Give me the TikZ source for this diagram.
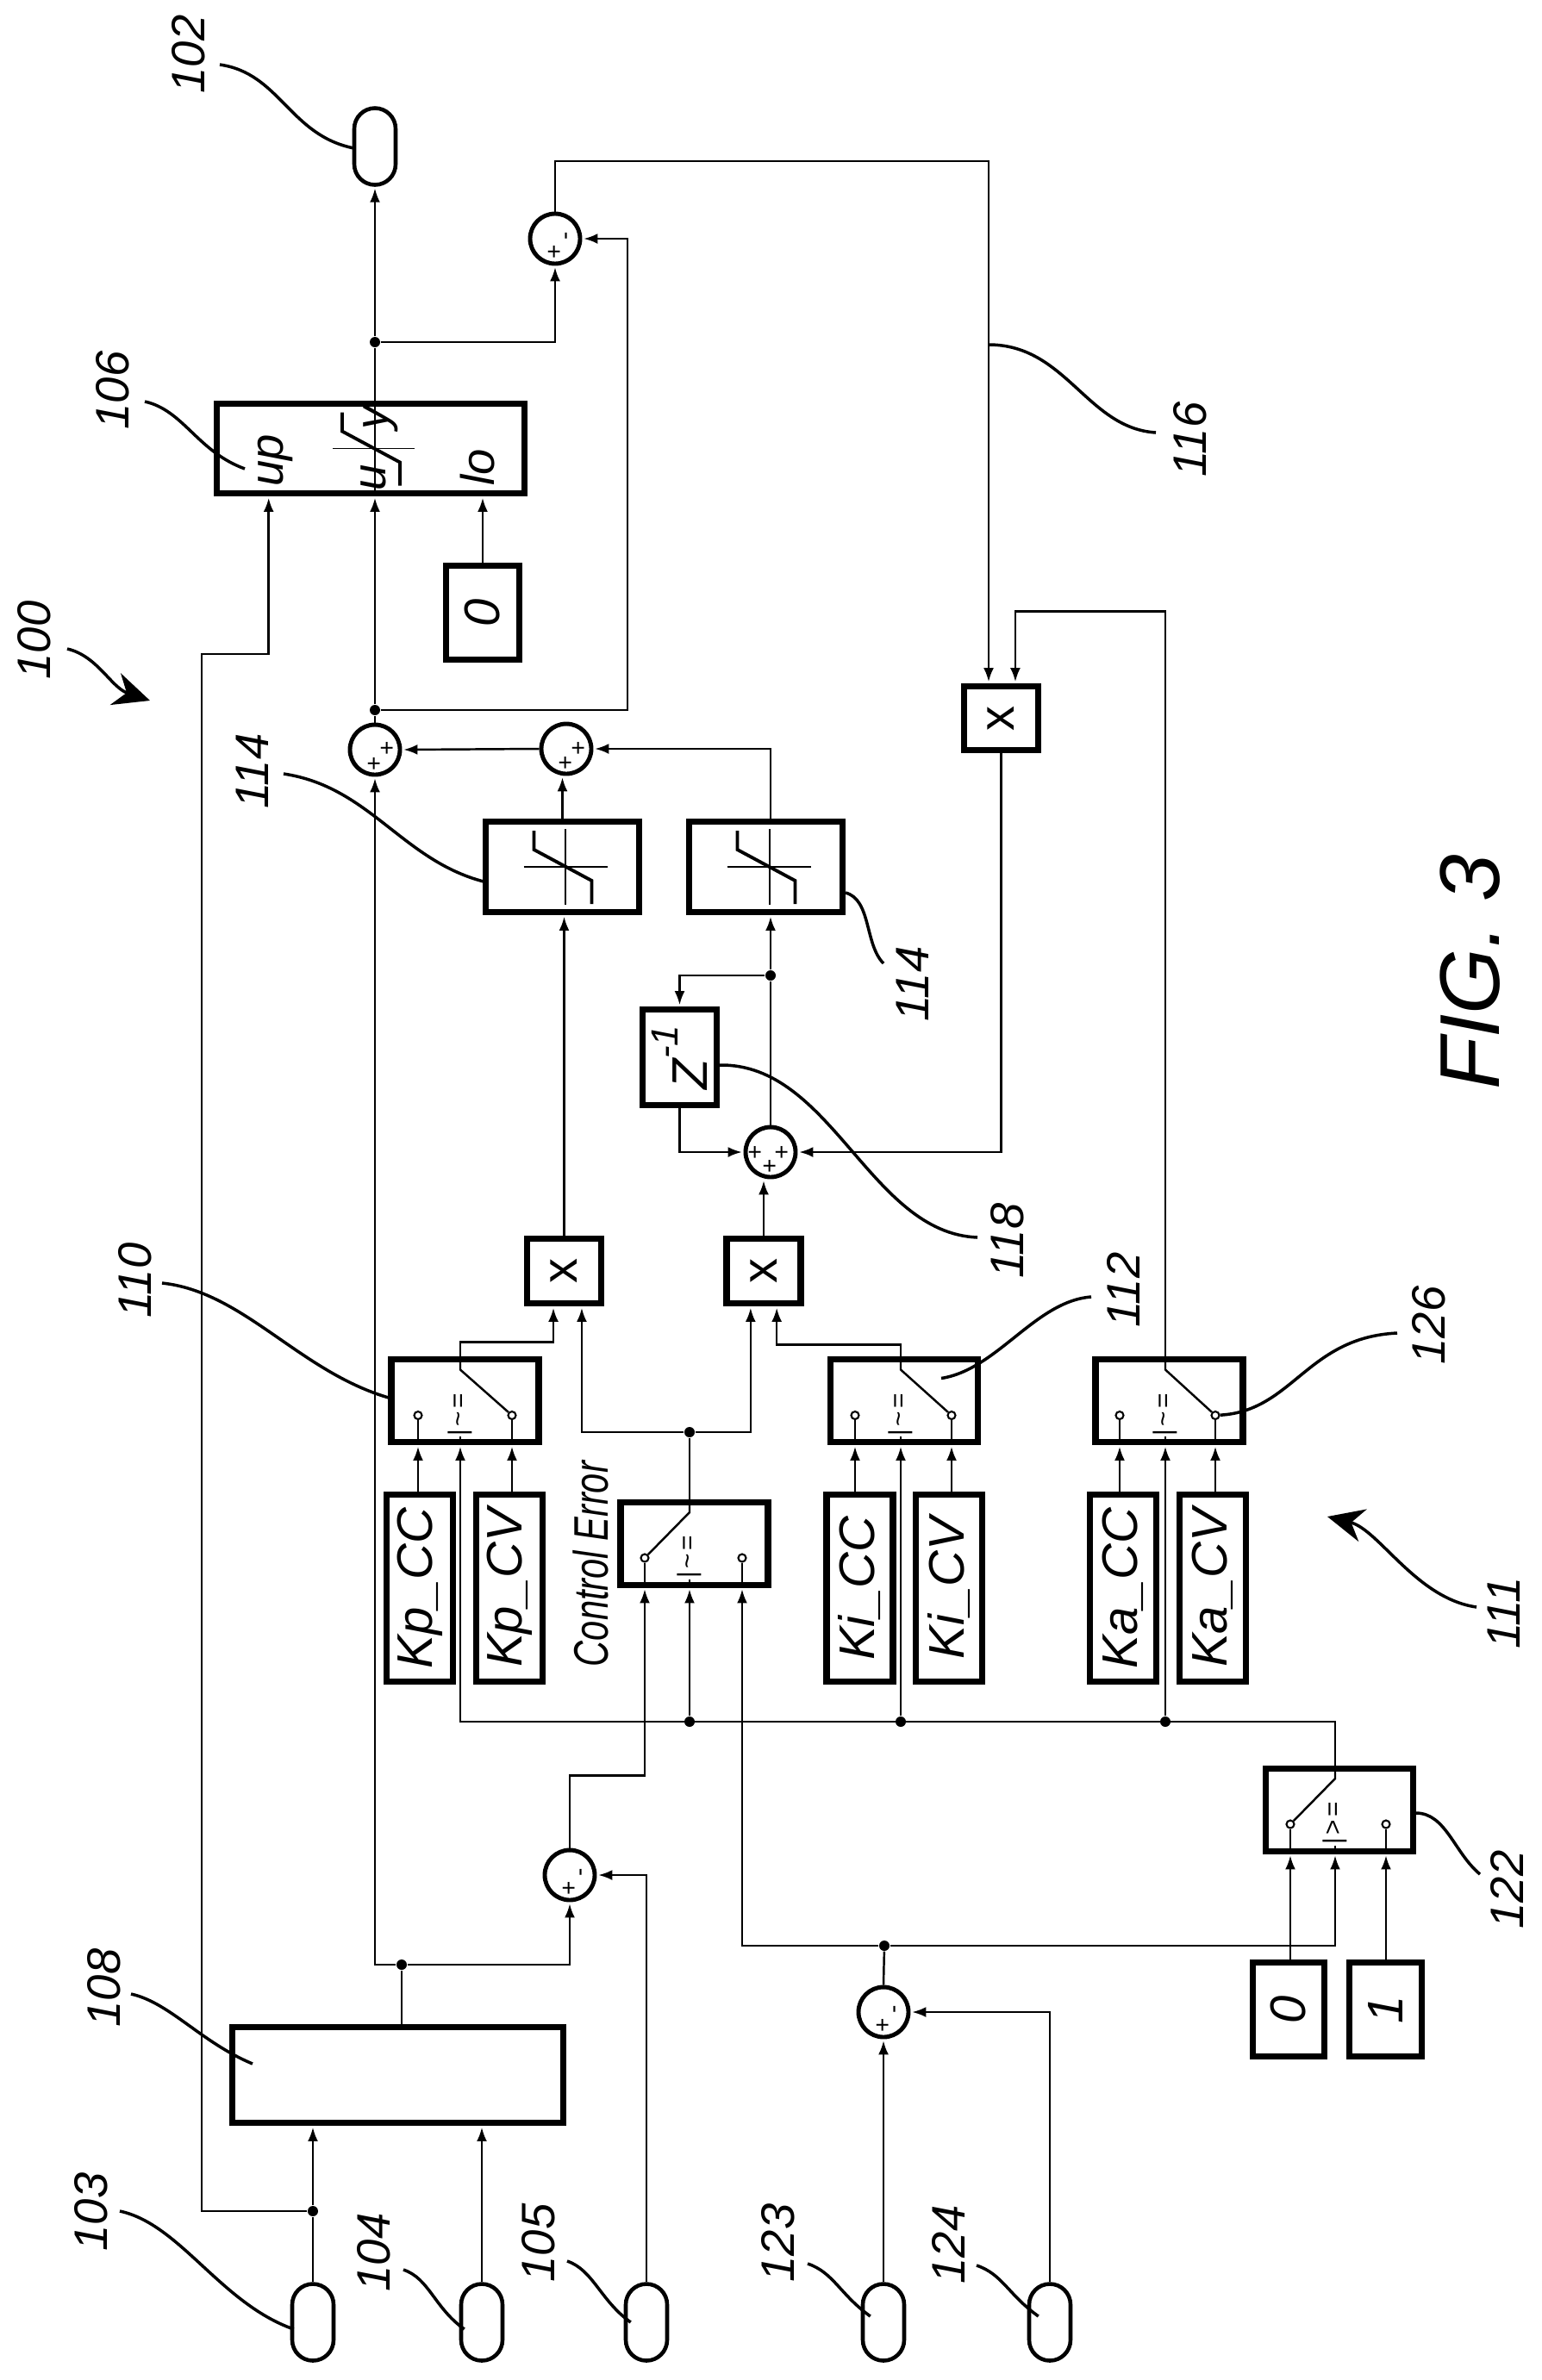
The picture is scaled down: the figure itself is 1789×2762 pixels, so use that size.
\documentclass[tikz,border=0pt]{standalone}
\usepackage{amsmath}
\usepackage{fontspec}
\setmainfont{Liberation Sans}
\usetikzlibrary{arrows.meta}
\usetikzlibrary{calc}

\newcommand{\rtext}[1]{\rotatebox{90}{#1}}

\tikzset{
    blk/.style={draw,line width=2pt,inner sep=0pt,font=\fontsize{16.5}{18}\selectfont\itshape},
    sumj/.style={draw,circle,line width=1.4pt,inner sep=0pt,minimum size=5.8mm},
    term/.style={draw,line width=1.3pt,rounded corners=2.4mm,minimum width=4.8mm,minimum height=8.9mm,inner sep=0pt},
    junc/.style={fill,circle,inner sep=0pt,minimum size=1.2mm},
    contact/.style={draw,fill=white,circle,line width=.6pt,inner sep=0pt,minimum size=.9mm},
    sign/.style={rotate=90,inner sep=0pt,font=\fontsize{8}{8}\selectfont},
    refnum/.style={rotate=90,inner sep=0pt,font=\fontsize{15.5}{17}\selectfont\itshape},
    sig/.style={line width=.7pt},
    arr/.style={sig,-{Latex[length=4.6pt,width=3.4pt]},shorten >=.5pt},
    leader/.style={line width=1pt},
    bigarr/.style={leader,-{Stealth[length=12pt,width=11pt]}},
}

\begin{document}
\begin{tikzpicture}[x=.1mm,y=-.1mm]
        \useasboundingbox (0,0) rectangle (1789,2762);

        % terminals
        \node[term] (t102) at (435,170) {};
        \node[term] (t103) at (363,2695) {};
        \node[term] (t104) at (559,2695) {};
        \node[term] (t105) at (750,2695) {};
        \node[term] (t123) at (1025,2695) {};
        \node[term] (t124) at (1218,2695) {};

        % limiter and constants
        \node[blk,minimum width=35.7mm,minimum height=10.4mm] (sat main) at (430,520.5) {};
        \node[blk,minimum width=8.5mm,minimum height=10.9mm] (lo val) at (560,711) {\rtext{0}};
        \node[blk,minimum width=17.8mm,minimum height=10.5mm] (sat p) at (652.5,1006) {};
        \node[blk,minimum width=17.8mm,minimum height=10.5mm] (sat i) at (888.5,1006) {};
        \node[blk,minimum width=8.6mm,minimum height=7.4mm] (mul a) at (1161.5,833.5) {\rtext{\upshape x}};
        \node[blk,minimum width=8.6mm,minimum height=11.1mm] (delay) at (788.5,1227) {\rtext{Z\raisebox{1.1ex}{\fontsize{12.5}{13}\selectfont -1}}};
        \node[blk,minimum width=8.6mm,minimum height=7.5mm] (mul p) at (654.5,1475) {\rtext{\upshape x}};
        \node[blk,minimum width=8.6mm,minimum height=7.5mm] (mul i) at (886,1475) {\rtext{\upshape x}};
        \node[blk,minimum width=38.4mm,minimum height=11.1mm] (ctrl) at (461.5,2408) {};

        % gain boxes
        \foreach \gname/\gx/\gtext in {Kp CC/487/Kp\_CC,Kp CV/591/Kp\_CV,Ki CC/997.5/Ki\_CC,Ki CV/1101/Ki\_CV,Ka CC/1303/Ka\_CC,Ka CV/1407/Ka\_CV}
            \node[blk,minimum width=7.7mm,minimum height=21.7mm] (\gname) at (\gx,1843) {\rtext{\gtext}};
        \node[blk,minimum width=8.3mm,minimum height=10.9mm] (zero) at (1495,2332) {\rtext{0}};
        \node[blk,minimum width=8.4mm,minimum height=10.9mm] (one) at (1607.5,2332) {\rtext{1}};

        % switches
        \foreach \sw/\cx/\cy/\px/\ax/\bx/\act/\sym in {
            swp/539.5/1625.5/534/485/594/b/\textasciitilde,
            swc/805.5/1791/800/748/861/a/\textasciitilde,
            swi/1049/1625.5/1045/992/1104/b/\textasciitilde,
            swa/1356.5/1625.5/1352/1299/1410/b/\textasciitilde,
            swm/1553.5/2100/1549/1497/1608/a/>}{
            \node[blk,minimum width=17.1mm,minimum height=9.6mm] (\sw) at (\cx,\cy) {};
            \coordinate (\sw p) at (\px,\cy-36);
            \node[contact] (\sw a) at (\ax,\cy+17) {};
            \node[contact] (\sw b) at (\bx,\cy+17) {};
            \node[inner sep=0pt,font=\fontsize{8.5}{9}\selectfont] (\sw s) at (\px,\cy+16) {\rtext{|\kern1pt\sym\kern1pt=}};
            \draw[sig] (\sw p |- \sw.north) -- (\sw p) -- (\sw\act);
            \draw[sig] (\sw a) -- (\sw a |- \sw.south);
            \draw[sig] (\sw b) -- (\sw b |- \sw.south);
            \draw[sig] (\sw s.south -| \sw p) -- (\sw p |- \sw.south);
        }

        % summing points
        \node[sumj] (s out) at (644,277) {};
        \node[sumj] (s main) at (435,870) {};
        \node[sumj] (s sat) at (657,869) {};
        \node[sumj] (s int) at (894,1337) {};
        \node[sumj] (s err) at (661,2176) {};
        \node[sumj] (s ref) at (1025,2335) {};
        \foreach \sj/\sx/\sy/\stext in {
            s out p/644/292/+,s out m/660/274/-,
            s main p/435/886/+,s main q/450/868/+,
            s sat p/657/885/+,s sat q/672/868/+,
            s int l/877/1337/+,s int r/908/1337/+,s int b/894/1353/+,
            s err p/661/2191/+,s err m/677/2173/-,
            s ref p/1025/2350/+,s ref m/1041/2332/-}
            \node[sign] (\sj) at (\sx,\sy) {\stext};

        % junctions
        \node[junc] (j out) at (435,397) {};
        \node[junc] (j fb) at (435,824) {};
        \node[junc] (j z) at (894,1132) {};
        \node[junc] (j c) at (800,1662) {};
        \node[junc] (j b1) at (800,1998) {};
        \node[junc] (j b2) at (1045,1998) {};
        \node[junc] (j b3) at (1352,1998) {};
        \node[junc] (j e) at (1026,2258) {};
        \node[junc] (j dist) at (466,2280) {};
        \node[junc] (j ref) at (363,2566) {};

        % limiter curves
        \foreach \s/\vx/\vh/\hl/\hr in {sat p/3.5/44/45/52,sat i/4.5/44/45/52,sat main/5/55/44/51}{
            \draw[line width=.5pt] ($(\s)+(-\hl,0)$) -- ($(\s)+(\hr,0)$);
            \draw[line width=.5pt] ($(\s)+(\vx,-\vh)$) -- ($(\s)+(\vx,\vh)$);
            \draw[line width=1.1pt] ($(\s)+(-33,-42)$) -- ++(0,22) -- ++(67,36) -- ++(0,27);
        }

        % text in the limiter
        \node[refnum] (up txt) at (319,534) {up};
        \node[refnum] (u txt) at (433,554) {u};
        \node[refnum] (y txt) at (442,485) {y};
        \node[refnum] (lo txt) at (554,542) {lo};

        % upper part
        \draw[arr] (j out) -- (t102.south);
        \draw[sig] (j out |- sat main.north) -- (j out);
        \draw[arr] (j out) -| (s out.south);
        \coordinate (fb top) at (1147,187);
        \coordinate (fb right) at (728,277);
        \draw[arr] (s out.north) |- (fb top) -- (fb top |- mul a.north);
        \draw[arr] (j fb) -- (j fb |- sat main.south);
        \draw[arr] (j fb) -| (fb right) -- (s out.east);
        \draw[sig] (s main.north) -- (j fb);
        \coordinate (lim bend) at (234,759);
        \draw[arr] (j ref) -| (lim bend) -| ($(sat main.south west)!0.175!(sat main.south east)$);
        \draw[arr] (lo val.north) -- (lo val.north |- sat main.south);
        \draw[arr] (s sat.west) -- (s main.east);
        \draw[arr] (sat p.north) -- (sat p.north |- s sat.south);
        \draw[arr] (j z |- sat i.north) |- (s sat.east);
        \draw[arr] (mul p.north) -- (mul p.north |- sat p.south);
        \draw[arr] (j z) -- (j z |- sat i.south);
        \draw[sig] (s int.north) -- (j z);
        \draw[arr] (j z) -| (delay.north);
        \draw[arr] (delay.south) |- (s int.west);
        \draw[arr] (mul a.south) |- (s int.east);
        \draw[arr] (mul i.north) -- (mul i.north |- s int.south);

        % switches to the multipliers
        \draw[arr] (swpp) -- ++(0,-32) -| ($(mul p.south west)!0.366!(mul p.south east)$);
        \draw[sig] (swcp) -- (j c);
        \draw[arr] (j c) -| ($(mul p.south west)!0.72!(mul p.south east)$);
        \draw[arr] (j c) -| ($(mul i.south west)!0.337!(mul i.south east)$);
        \draw[arr] (swip) -- ++(0,-29) -| ($(mul i.south west)!0.663!(mul i.south east)$);
        \draw[arr] (swap) -- ++(0,-880) -| ($(mul a.north west)!0.677!(mul a.north east)$);

        % gains to the switches
        \draw[arr] (swpa |- Kp CC.north) -- (swpa |- swp.south);
        \draw[arr] (swpb |- Kp CV.north) -- (swpb |- swp.south);
        \draw[arr] (swia |- Ki CC.north) -- (swia |- swi.south);
        \draw[arr] (swib |- Ki CV.north) -- (swib |- swi.south);
        \draw[arr] (swaa |- Ka CC.north) -- (swaa |- swa.south);
        \draw[arr] (swab |- Ka CV.north) -- (swab |- swa.south);

        % selection bus
        \draw[arr] (swmp) |- (swpp |- j b1) -- (swpp |- swp.south);
        \draw[arr] (j b1) -- (j b1 |- swc.south);
        \draw[arr] (j b2) -- (j b2 |- swi.south);
        \draw[arr] (j b3) -- (j b3 |- swa.south);

        % lower part
        \draw[arr] (s err.north) -- ++(0,-84) -| (swca |- swc.south);
        \draw[sig] (s ref.north) -- (j e);
        \draw[arr] (j e) -| (swcb |- swc.south);
        \draw[arr] (j e) -| (swmp |- swm.south);
        \draw[arr] (swma |- zero.north) -- (swma |- swm.south);
        \draw[arr] (swmb |- one.north) -- (swmb |- swm.south);
        \draw[arr] (t123.north) -- (s ref.south);
        \draw[arr] (t124.north) |- (s ref.east);
        \draw[sig] (t103.north) -- (j ref);
        \draw[arr] (j ref) -- (j ref |- ctrl.south);
        \draw[arr] (t104.north) -- (t104.north |- ctrl.south);
        \draw[arr] (t105.north) |- (s err.east);
        \draw[sig] (j dist |- ctrl.north) -- (j dist);
        \draw[arr] (j dist) -| (s main.south);
        \draw[arr] (j dist) -| (s err.south);

        % texts
        \node[rotate=90,inner sep=0pt,font=\fontsize{16}{18}\selectfont\itshape] (ctrl err) at (685,1815) {\scalebox{.74}[1]{Control Error}};
        \node[rotate=90,inner sep=0pt,font=\fontsize{28}{30}\selectfont\itshape] (fig no) at (1706,1128) {FIG. 3};

        % reference numbers
        \node[refnum] (n100) at (40,743) {100};
        \node[refnum] (n102) at (219,63) {102};
        \node[refnum] (n103) at (106,2567) {103};
        \node[refnum] (n104) at (434,2614) {104};
        \node[refnum] (n105) at (625,2603) {105};
        \node[refnum] (n106) at (131,453) {106};
        \node[refnum] (n108) at (121,2307) {108};
        \node[refnum] (n110) at (157,1486) {110};
        \node[refnum] (n111) at (1745,1872) {111};
        \node[refnum] (n112) at (1303,1497) {112};
        \node[refnum] (n114) at (293,895) {114};
        \node[refnum] (n114b) at (1059,1142) {114};
        \node[refnum] (n116) at (1381,510) {116};
        \node[refnum] (n118) at (1169,1440) {118};
        \node[refnum] (n122) at (1748,2193) {122};
        \node[refnum] (n123) at (903,2603) {123};
        \node[refnum] (n124) at (1100,2605) {124};
        \node[refnum] (n126) at (1658,1538) {126};

        % leaders
        \draw[bigarr] ($(n100)+(38,10)$) .. controls +(35,8) and +(-45,-15) .. (174,813);
        \draw[leader] ($(n102)+(36,12)$) .. controls +(70,10) and +(-75,-15) .. ($(t102.west)+(2,2)$);
        \draw[leader] ($(n103)+(33,-1)$) .. controls +(70,15) and +(-85,-30) .. ($(t103.west)+(4,8)$);
        \draw[leader] ($(n104)+(34,20)$) .. controls +(30,10) and +(-35,-25) .. ($(t104.west)+(6,8)$);
        \draw[leader] ($(n105)+(33,21)$) .. controls +(30,10) and +(-35,-25) .. ($(t105.west)+(8,0)$);
        \draw[leader] ($(n106)+(37,13)$) .. controls +(45,10) and +(-55,-20) .. (284,544);
        \draw[leader] ($(n108)+(31,7)$) .. controls +(45,10) and +(-60,-25) .. (293,2395);
        \draw[leader] ($(n110)+(31,3)$) .. controls +(95,10) and +(-105,-30) .. ($(swp.west)+(2,-3)$);
        \draw[bigarr] ($(n111)+(-32,-7)$) .. controls +(-70,-10) and +(60,15) .. (1540,1760);
        \draw[leader] ($(n112)+(-37,8)$) .. controls +(-65,5) and +(65,-10) .. ($(swi.east)+(-46,-26)$);
        \draw[leader] ($(n114)+(36,3)$) .. controls +(100,15) and +(-95,-25) .. ($(sat p.west)+(1,17)$);
        \draw[leader] (sat i.east |- 0,1036) .. controls +(30,8) and +(-22,-22) .. ($(n114b)+(-34,-24)$);
        \draw[leader] ($(fb top)+(0,213)$) .. controls +(90,0) and +(-80,-5) .. ($(n116)+(-40,-8)$);
        \draw[leader] ($(delay.east)+(0,9)$) .. controls +(130,-2) and +(-125,-5) .. ($(n118)+(-35,-4)$);
        \draw[leader] ($(swm.east)+(0,4)$) .. controls +(35,0) and +(-30,-25) .. ($(n122)+(-31,-18)$);
        \draw[leader] ($(n123)+(34,24)$) .. controls +(30,10) and +(-35,-25) .. ($(t123.west)+(11,-7)$);
        \draw[leader] ($(n124)+(33,24)$) .. controls +(30,10) and +(-35,-25) .. ($(t124.west)+(13,-7)$);
        \draw[leader] ($(n126)+(-37,9)$) .. controls +(-105,5) and +(90,-5) .. (swab);
\end{tikzpicture}
\end{document}
